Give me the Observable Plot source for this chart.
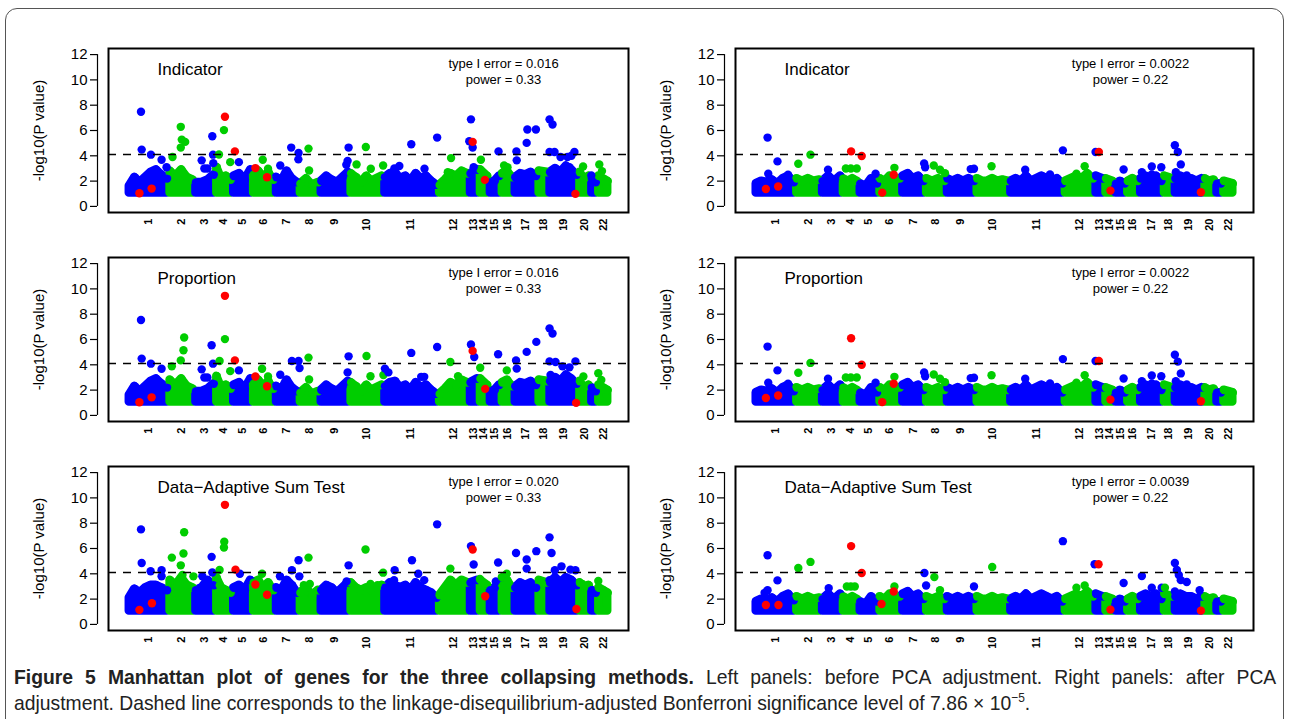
<!DOCTYPE html>
<html><head><meta charset="utf-8">
<script src="https://cdn.jsdelivr.net/npm/d3@7"></script>
<script src="https://cdn.jsdelivr.net/npm/@observablehq/plot@0.6"></script>
<style>
body{margin:0;background:#fff;width:1289px;height:719px;overflow:hidden;position:relative;font-family:"Liberation Sans",Arial,sans-serif}
#frame{position:absolute;left:5px;top:8px;width:1277px;height:760px;border:1.5px solid #555;border-radius:12px;}
.panel{position:absolute}
.panel svg{overflow:visible}
.cap{position:absolute;left:14px;font-family:"Liberation Sans",Arial,sans-serif;font-size:21px;line-height:26px;color:#222;transform-origin:0 50%;transform:scaleX(0.92);white-space:normal}
#cap1{top:664px;width:1372px;text-align:justify;text-align-last:justify}
#cap2{top:690px;width:1372px;text-align:left}
.cap sup{font-size:13px;line-height:0;vertical-align:8px}
</style></head><body>
<div id="frame"></div>
<div id="root"></div>
<div id="cap1" class="cap"><b>Figure 5 Manhattan plot of genes for the three collapsing methods.</b> Left panels: before PCA adjustment. Right panels: after PCA</div>
<div id="cap2" class="cap">adjustment. Dashed line corresponds to the linkage-disequilibrium-adjusted Bonferroni significance level of 7.86 × 10<sup>−5</sup>.</div>
<script>
// ---------- data ----------
const chromNames = ["1","2","3","4","5","6","7","8","9","10","11","12","13","14","15","16","17","18","19","20","21","22"];
// relative number of genes per chromosome (x extent)
const chromSizes = [41,26,21,17,20,23,24,21,30,34,55,31,10,10,12,13,24,11,30,12,7,12];
const labelledChroms = chromNames.filter(c => c !== "21");
const chromColors = ["#0000FF", "#00CD00"];
const causalColor = "#FF0000";
const significance = 7.86e-5;
const yTicks = [0, 2, 4, 6, 8, 10, 12];
const massFloor = 1.05;

const methodTitles = ["Indicator", "Proportion", "Data\u2212Adaptive Sum Test"];
const typeIErrorBefore = ["0.016", "0.016", "0.020"];
const typeIErrorAfter = ["0.0022", "0.0022", "0.0039"];
const powerBefore = ["0.33", "0.33", "0.33"];
const powerAfter = ["0.22", "0.22", "0.22"];

// upper edge of the dense cloud of genes, per chromosome (-log10 p)
const massBeforePCA = [
 [1.6,2.3,1.9,2.3,2.7,2.9,2.5,2.2],[2.8,2.4,2.9,2.3,2.1],[1.9,1.9,2.1,2.5],[3.1,2.2,2.4,2.1],
 [2.4,2.6,2.1,2.9],[2.5,2.8,2.3,2.7,2.1],[2.3,2.0,2.8,2.2,1.9],[1.8,2.2,1.7,1.9],
 [2.0,2.4,2.1,1.9,2.3,2.7],[2.6,2.3,1.9,2.4,2.0,2.2,2.4],[2.3,2.6,2.7,2.2,2.4,2.0,2.6,2.2,2.4,2.0,1.7],
 [1.7,2.1,2.6,2.4,2.8,2.6],[2.6,2.9],[2.9,2.4],[1.9,2.0,2.4],[2.6,2.8,2.3],[2.3,2.6,2.5,2.7,2.4],
 [2.8,2.7],[2.7,3.0,2.7,3.2,2.9,2.5],[2.7,2.2,2.4],[2.2,1.9],[2.4,2.2,2.0]
];
const massBeforePCA_DAST = [
 [2.1,2.8,2.5,2.9,3.1,3.1,2.9,2.7],[3.5,3.1,3.7,3.1,2.9],[2.7,2.9,3.5,3.1],[3.7,2.9,2.7,2.5],
 [2.9,3.1,2.7,3.5],[3.3,3.5,2.9,3.3,2.7],[2.9,2.7,3.5,3.1,2.5],[2.5,2.9,2.3,2.7],
 [2.7,3.1,2.9,2.5,2.9,3.3],[3.3,2.9,2.7,2.9,2.7,2.9,3.1],[2.9,3.3,3.1,2.9,3.1,2.7,3.3,2.9,2.7,2.5,2.1],
 [2.3,2.9,3.5,3.1,3.5,3.3],[3.3,3.5],[3.5,3.1],[2.7,2.9,3.3],[3.1,3.5,2.9],[2.9,3.3,3.1,3.3,2.9],
 [3.5,3.3],[3.3,3.7,3.3,3.7,3.5,3.1],[3.3,2.9,3.1],[2.7,2.5],[2.9,2.7,2.5]
];
const massAfterPCA = [
 [1.8,2.0,1.9,2.1,1.8,2.2,2.4,1.9],[2.2,2.0,2.2,2.0,2.1],[2.0,2.4,2.0,2.4],[2.2,2.0,2.2,2.0],
 [1.8,1.6,2.2,1.8],[2.2,2.0,2.4,2.0,2.2],[2.4,2.6,2.2,2.4,2.0],[2.2,2.0,2.2,2.0],
 [2.2,2.0,2.2,2.0,2.2,2.0],[2.2,2.0,2.0,2.2,2.0,2.1,2.0],[2.0,2.2,2.0,2.4,2.0,2.2,2.4,2.2,2.0,2.2,1.8],
 [2.0,2.2,2.4,2.2,2.6,2.2],[2.4,2.2],[2.2,2.0],[1.8,2.0,1.8],[2.0,2.2,2.0],[2.2,2.4,2.2,2.4,2.0],
 [2.4,2.2],[2.2,2.4,2.2,2.2,2.0,2.2],[2.2,2.0,2.1],[1.8,1.8],[2.0,1.9,1.8]
];

// genes standing out above the cloud: [chromosome, position, -log10 p]
const hitsIndicatorBefore = [
 [1,13.3,7.48],[1,14,4.49],[1,23.3,4.09],[1,34,3.69],[1,39,3.1],
 [2,45,3.9],[2,53.3,6.29],[2,54.3,5.28],[2,57.7,5.1],[2,53.3,4.65],
 [3,85,5.55],[3,85.7,4.09],[3,74.3,3.64],[3,77,3.0],[3,80,3.0],[3,86,3.42],
 [4,91.7,4.1],[4,96.7,6.03],[4,103,3.5],[5,111.7,3.5],[6,135.7,3.69],[6,141,2.98],
 [7,164.3,4.65],[7,171.7,4.22],[7,171.5,3.72],[7,153.3,3.24],[8,181.7,4.57],[8,182.3,2.84],
 [9,222,4.65],[9,221,3.6],[9,219.7,3.3],[10,239.3,4.7],[10,230,3.32],[10,244.3,2.98],[10,256.7,3.24],
 [11,285,4.91],[11,311,5.44],[11,273,3.2],[11,268,3.0],[11,298.3,2.98],[12,325,3.82],[12,321.7,2.7],
 [13,345,6.88],[13,343.3,5.15],[13,346.7,4.65],[13,347.7,3.1],[14,355,3.69],[15,372.7,4.35],
 [16,378.3,3.24],[16,381.7,3.1],[17,390.7,4.35],[17,401,5.02],[17,401.7,6.08],[17,410.3,6.08],[17,391,3.64],
 [19,424,6.88],[19,427,6.48],[19,424,4.3],[19,429,4.3],[19,435,3.9],[19,442,3.9],[19,446,4.0],[19,449,4.3],[19,444,3.1],
 [20,457.7,3.16],[21,466,2.44],[22,474,3.32],[22,476.7,2.79]
];
const hitsProportionBefore = [
 [1,13.3,7.54],[1,14,4.49],[1,23.3,4.09],[1,34,3.69],
 [2,56.7,6.16],[2,56,5.15],[2,53.3,4.35],[2,44.3,3.88],
 [3,84.3,5.55],[3,85.7,4.09],[3,74.3,3.64],[3,77,3.0],[3,80,3.0],
 [4,97.7,6.03],[4,92.3,4.3],[4,103,3.5],[5,111.7,3.56],[6,135,3.69],[6,141,3.08],
 [7,165,4.3],[7,171.7,4.3],[7,172.7,3.74],[7,153.3,3.21],[8,181.7,4.57],[8,182.3,2.84],
 [9,222,4.67],[9,221,3.4],[10,240,4.7],[10,244,3.1],[10,257,3.2],
 [11,285,4.94],[11,311,5.41],[11,258.5,3.7],[11,262,3.4],[11,295,3.05],[11,298,3.05],
 [12,324.3,4.22],[12,332,3.1],[13,345,5.6],[13,348.3,4.62],[14,354.3,3.77],[15,372.3,4.83],[16,381,3.56],
 [17,390.3,4.35],[17,401,5.02],[17,410.7,5.81],[17,391,3.7],
 [19,424,6.88],[19,427,6.48],[19,424,4.27],[19,430,4.22],[19,437,3.88],[19,444,3.8],[19,450,4.27],[19,425,3.2],
 [20,458,3.08],[22,473,3.34],[22,476,2.8]
];
const hitsDASTBefore = [
 [1,13.3,7.51],[1,14,4.86],[1,23,4.2],[1,34,4.28],[1,34,3.8],
 [2,56.7,7.28],[2,56,5.6],[2,44.3,5.28],[2,53.3,4.67],[2,55,3.9],[2,66,3.8],
 [3,84.3,5.34],[3,85,4.1],[3,75,3.8],[4,97,6.53],[4,96.7,6.08],[4,92.3,4.3],[4,92.5,3.1],
 [5,112.7,4.0],[6,135,4.01],[6,141,3.1],[7,171.7,5.07],[7,165,4.28],[7,172.5,3.8],[7,153,3.8],
 [8,181.7,5.28],[8,177,3.1],[8,183,3.2],[9,222,4.67],[9,220,3.4],
 [10,239,5.92],[10,256.7,4.09],[10,244,3.2],[10,251,3.1],
 [11,268.3,4.28],[11,267.7,3.5],[11,285.7,5.07],[11,292,4.0],[11,298,3.5],[11,311,7.91],
 [12,324.3,4.41],[12,333,3.1],[13,345,6.19],[13,347.7,4.73],[14,354,3.6],[14,357,3.2],
 [15,372.3,4.89],[15,370,3.4],[16,376,3.74],[16,381,4.01],
 [17,390.3,5.65],[17,401,5.13],[17,401,4.41],[17,410.7,5.79],
 [19,424,6.88],[19,426,5.65],[19,429.3,4.28],[19,436,4.59],[19,445,4.33],[19,450,4.28],[19,424,3.5],[19,444,3.5],
 [20,457,3.2],[22,473,3.43]
];
const hitsIndicatorAfter = [
 [1,13,5.44],[1,23,3.56],[1,13.7,2.58],[1,33.7,2.5],[2,44,3.37],[2,56.3,4.09],[3,74,2.9],
 [4,92,3.0],[4,97,3.0],[4,103,3.0],[5,122,2.58],[6,141,3.05],[7,171,3.4],[7,172,3.1],
 [8,180.7,3.24],[8,187,2.9],[8,192,2.63],[9,218,2.95],[9,221.3,2.98],[10,239,3.18],
 [11,273,2.9],[11,298,2.52],[11,311,4.43],[12,324.7,2.58],[12,333,3.18],[13,344,4.3],
 [15,372.3,2.92],[17,390.7,2.71],[17,400.7,3.16],[17,400.7,2.52],[17,410.3,3.1],
 [19,424,4.83],[19,427,4.3],[19,430,3.32],[19,425,2.7],[19,436,2.44]
];
const hitsProportionAfter = [
 [1,13,5.44],[1,23,3.56],[1,13.7,2.58],[1,33.7,2.5],[2,44,3.37],[2,56.3,4.15],[3,74,2.9],
 [4,92,3.0],[4,97,3.0],[4,103,3.0],[5,122,2.58],[6,141,3.05],[7,171,3.4],[7,172,3.1],
 [8,180.7,3.24],[8,187,2.9],[8,192,2.63],[9,218,2.95],[9,221.3,2.98],[10,239,3.18],
 [11,273,2.9],[11,298,2.52],[11,311,4.45],[12,324.7,2.58],[12,333,3.18],[13,344,4.3],
 [15,372.3,2.92],[17,390.7,2.71],[17,400.7,3.16],[17,400.7,2.52],[17,410.3,3.1],
 [19,424,4.8],[19,427,4.25],[19,430,3.32],[19,425,2.7],[19,436,2.44]
];
const hitsDASTAfter = [
 [1,13,5.47],[1,23,3.48],[1,13,2.7],[1,10,2.5],[2,44,4.46],[2,56.3,4.94],[3,74.7,2.87],
 [4,93,3.0],[4,97,3.0],[4,101,3.0],[6,141,3.0],[7,171.3,4.06],[7,173,3.08],
 [8,181.3,3.74],[8,187,2.7],[9,221.3,3.0],[10,239.7,4.54],[11,311,6.58],
 [12,324.7,2.9],[12,333,3.08],[13,343,4.75],[15,372.3,3.27],
 [17,390.7,3.82],[17,400.7,2.9],[17,410.7,2.9],[18,414,2.9],
 [19,424,4.86],[19,426,4.3],[19,428,3.9],[19,430,3.5],[19,436,3.35],[19,424,2.6],[19,449,2.7]
];

// simulated causal genes (red): [position, -log10 p]
const causalIndicatorBefore = [[11.7,1.04],[24,1.41],[97.7,7.09],[107.7,4.35],[128.3,3.03],[140,2.31],[346.7,5.1],[359,2.1],[450,0.99]];
const causalProportionBefore = [[11.7,1.04],[24,1.43],[97.7,9.45],[107.7,4.35],[128.3,3.08],[140,2.31],[346.7,5.1],[359.3,2.1],[450.7,0.99]];
const causalDASTBefore = [[11.7,1.15],[24.3,1.67],[97.7,9.45],[108.3,4.33],[128.3,3.16],[140,2.34],[346.7,5.92],[359.3,2.23],[451,1.22]];
const causalIndicatorAfter = [[11.3,1.38],[23.7,1.57],[97.3,4.35],[108,3.98],[128.7,1.09],[140.3,2.5],[347.3,4.3],[359,1.25],[450.3,1.12]];
const causalProportionAfter = [[11.3,1.38],[23.7,1.57],[97.3,6.1],[108,4.0],[128.7,1.05],[140.3,2.5],[347.3,4.3],[359,1.25],[450.3,1.12]];
const causalDASTAfter = [[11.3,1.54],[24,1.54],[97.3,6.19],[108,4.06],[128,1.62],[140.3,2.6],[347,4.75],[359,1.17],[450.3,1.09]];

// ---------- drawing ----------
const chromStart = [];
let acc = 0;
for (const s of chromSizes) { chromStart.push(acc); acc += s; }
const totalGenes = acc;
const chromMid = chromStart.map((s, i) => s + chromSizes[i] / 2);
const midByName = new Map(chromNames.map((c, i) => [c, chromMid[i]]));
const nameByMid = new Map(chromNames.map((c, i) => [chromMid[i], c]));
const tickMids = labelledChroms.map(c => midByName.get(c));
const xDomain = [-0.04 * totalGenes, 1.04 * totalGenes];
const threshold = -Math.log10(significance);
const dotR = 4.2;

function manhattan(opts) {
  const {mass, hits, causal, title, err, pow, marginLeft, marginRight} = opts;
  const massRows = [];
  mass.forEach((hs, i) => {
    const n = hs.length, s = chromStart[i], w = chromSizes[i];
    hs.forEach((h, j) => massRows.push({
      chr: i + 1,
      x: n > 1 ? s + 1.5 + j * (w - 3) / (n - 1) : s + w / 2,
      top: h, base: massFloor, fill: chromColors[i % 2]
    }));
  });
  const hitRows = hits.map(([c, x, y]) => ({x, y, fill: chromColors[(c - 1) % 2]}));
  const redRows = causal.map(([x, y]) => ({x, y}));
  return Plot.plot({
    width: 640, height: 209, marginLeft, marginRight, marginTop: 18, marginBottom: 27,
    x: {domain: xDomain, axis: null},
    y: {domain: [-0.48, 12.48], axis: null},
    color: {type: "identity"},
    style: {fontFamily: "Liberation Sans, Arial, Helvetica, sans-serif", background: "transparent", color: "#000", overflow: "visible"},
    marks: [
      Plot.areaY(massRows, {x: "x", y1: "base", y2: "top", z: "chr", fill: "fill", stroke: "fill",
                            strokeWidth: 2 * dotR, strokeLinejoin: "round"}),
      Plot.dot(massRows, {x: "x", y: "top", fill: "fill", r: dotR}),
      Plot.dot(hitRows, {x: "x", y: "y", fill: "fill", r: dotR}),
      Plot.dot(redRows, {x: "x", y: "y", fill: causalColor, r: dotR}),
      Plot.ruleY([threshold], {stroke: "#000", strokeWidth: 1.4, strokeDasharray: "8,7"}),
      Plot.frame({stroke: "#000", strokeWidth: 2}),
      Plot.ruleX([xDomain[0]], {y1: yTicks[0], y2: yTicks[yTicks.length - 1], dx: -11, stroke: "#000", strokeWidth: 1.2}),
      Plot.axisY({ticks: yTicks, tickSize: 7, tickPadding: 3, dx: -11, fontSize: 15, strokeWidth: 1.2,
                  label: "-log10(P value)", labelAnchor: "center", labelArrow: "none", labelOffset: 75}),
      Plot.axisX({ticks: tickMids, tickFormat: d => nameByMid.get(d), tickRotate: -90, tickSize: 0, tickPadding: 6,
                  fontSize: 11, fontWeight: "bold", label: null}),
      Plot.text([title], {frameAnchor: "top-left", dx: 49, dy: 21, textAnchor: "start", lineAnchor: "middle", fontSize: 17}),
      Plot.text([`type I error = ${err}\npower = ${pow}`], {frameAnchor: "top-left", dx: 395, dy: 22.5,
                  textAnchor: "middle", lineAnchor: "middle", fontSize: 13, lineHeight: 1.2})
    ]
  });
}

const panels = [
  {col: 0, row: 0, mass: massBeforePCA, hits: hitsIndicatorBefore, causal: causalIndicatorBefore, title: methodTitles[0], err: typeIErrorBefore[0], pow: powerBefore[0]},
  {col: 0, row: 1, mass: massBeforePCA, hits: hitsProportionBefore, causal: causalProportionBefore, title: methodTitles[1], err: typeIErrorBefore[1], pow: powerBefore[1]},
  {col: 0, row: 2, mass: massBeforePCA_DAST, hits: hitsDASTBefore, causal: causalDASTBefore, title: methodTitles[2], err: typeIErrorBefore[2], pow: powerBefore[2]},
  {col: 1, row: 0, mass: massAfterPCA, hits: hitsIndicatorAfter, causal: causalIndicatorAfter, title: methodTitles[0], err: typeIErrorAfter[0], pow: powerAfter[0]},
  {col: 1, row: 1, mass: massAfterPCA, hits: hitsProportionAfter, causal: causalProportionAfter, title: methodTitles[1], err: typeIErrorAfter[1], pow: powerAfter[1]},
  {col: 1, row: 2, mass: massAfterPCA, hits: hitsDASTAfter, causal: causalDASTAfter, title: methodTitles[2], err: typeIErrorAfter[2], pow: powerAfter[2]}
];

const root = document.getElementById("root");
for (const p of panels) {
  const div = document.createElement("div");
  div.className = "panel";
  div.style.left = (p.col === 0 ? 0 : 640) + "px";
  div.style.top = (30 + 209 * p.row) + "px";
  const svg = manhattan({...p, marginLeft: p.col === 0 ? 108 : 95, marginRight: p.col === 0 ? 12 : 27});
  div.appendChild(svg);
  root.appendChild(div);
}
</script>
</body></html>
